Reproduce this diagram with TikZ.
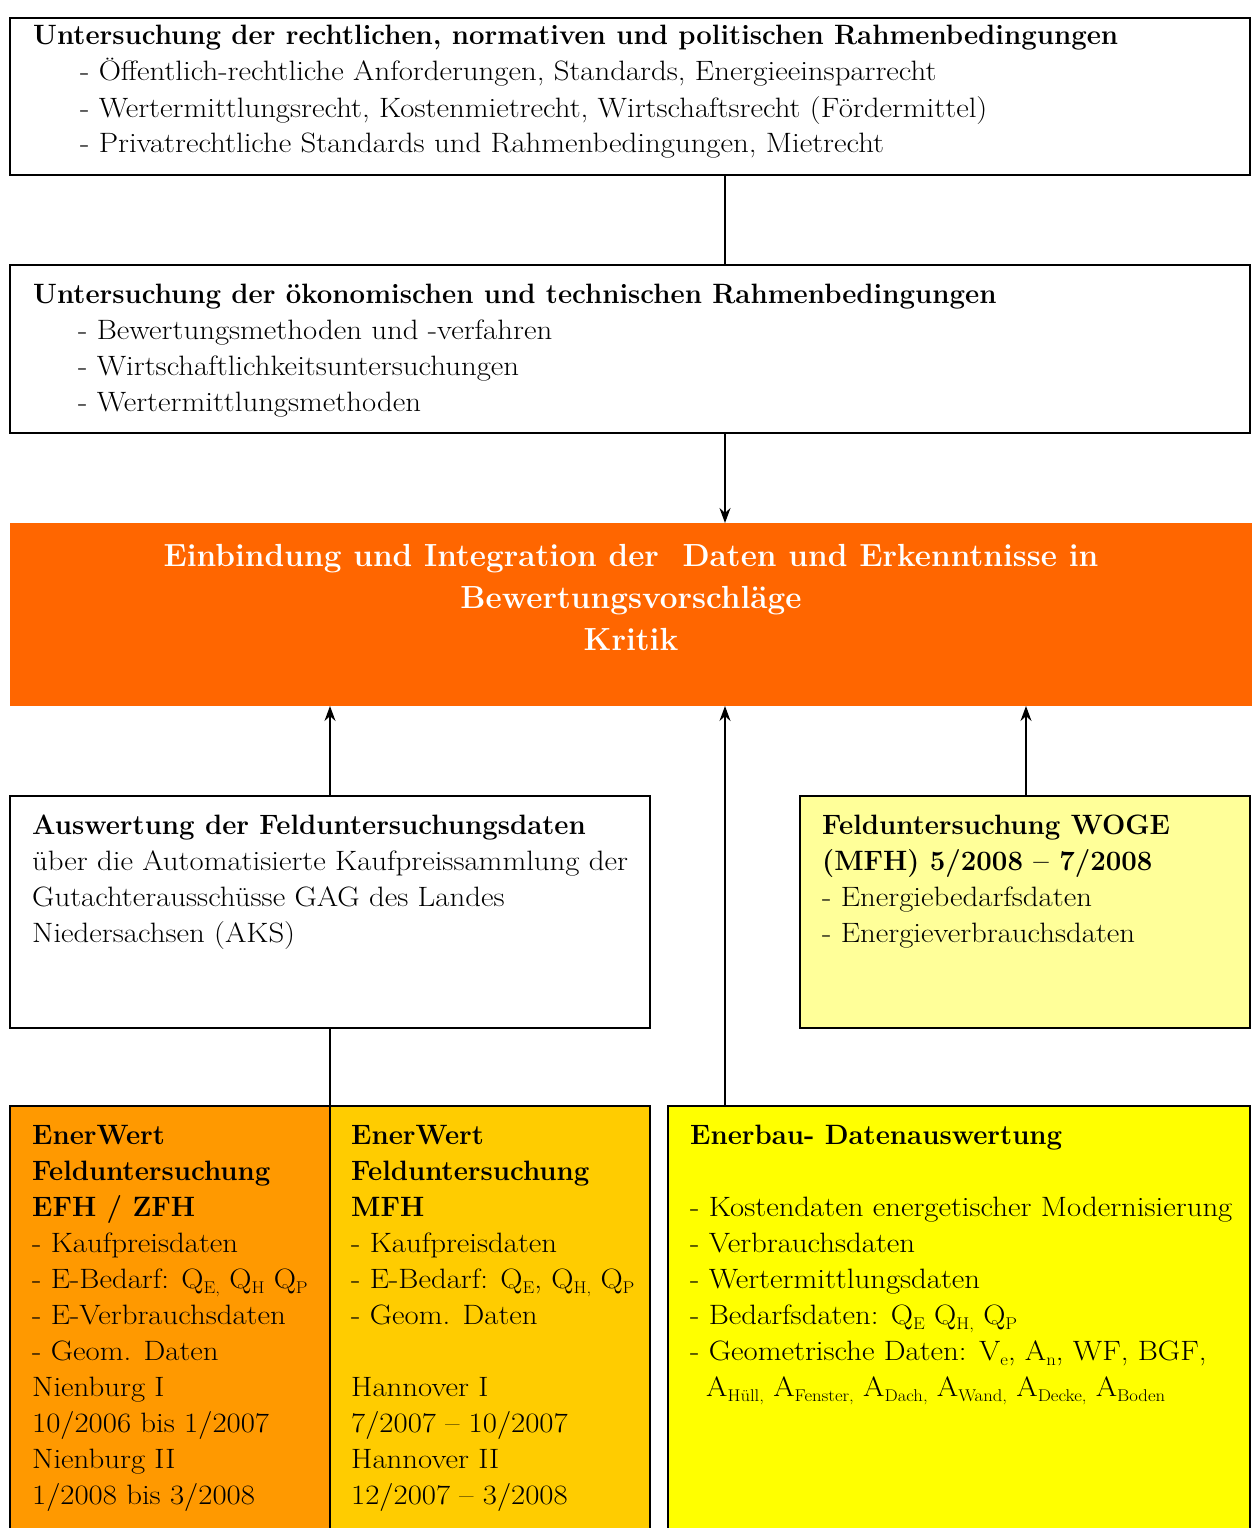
\documentclass[tikz,border=0pt]{standalone}
\usepackage{fontspec}
\setmainfont{Latin Modern Roman}[UprightFeatures={FakeStretch=1.1},BoldFeatures={FakeStretch=0.985}]
\usetikzlibrary{arrows.meta}
\definecolor{mainorange}{HTML}{FF6600}
\definecolor{darkorange}{HTML}{FF9900}
\definecolor{goldbox}{HTML}{FFCC00}
\definecolor{yellowbox}{HTML}{FFFF00}
\definecolor{paleyellow}{HTML}{FFFF99}
% small lowered index text
\newcommand\idx[1]{\raisebox{-5pt}{\fontsize{17}{17}\selectfont #1}}
\begin{document}
\begin{tikzpicture}[x=1pt,y=-1pt,
  box/.style={draw=black, line width=1.4pt, inner sep=0pt, outer sep=0pt, anchor=north west},
  txt/.style={anchor=base west, inner sep=0pt, font=\fontsize{28}{36}\selectfont},
  conn/.style={line width=1.4pt},
  arr/.style={conn, -{Stealth[length=15pt,width=11pt]}}]
\useasboundingbox (0,0) rectangle (1252,1528);

% boxes
\node[box, minimum width=1240pt, minimum height=157pt] (recht) at (10,18) {};
\node[box, minimum width=1240pt, minimum height=168pt] (oeko) at (10,265) {};
\node[box, draw=none, fill=mainorange, minimum width=1242pt, minimum height=183pt] (main) at (10,523) {};
\node[box, minimum width=640pt, minimum height=232pt] (aks) at (10,796) {};
\node[box, fill=paleyellow, minimum width=450pt, minimum height=232pt] (woge) at (800,796) {};
\node[box, fill=darkorange, minimum width=320pt, minimum height=440pt] (efh) at (10,1106) {};
\node[box, fill=goldbox, minimum width=320pt, minimum height=440pt] (mfh) at (330,1106) {};
\node[box, fill=yellowbox, minimum width=582pt, minimum height=440pt] (enerbau) at (668,1106) {};

% connector columns
\coordinate (cmid) at (725,0);
\coordinate (cleft) at (330,0);
\coordinate (cright) at (1026,0);

\draw[conn] (recht.south -| cmid) -- (oeko.north -| cmid);
\draw[arr] (oeko.south -| cmid) -- (main.north -| cmid);
\draw[arr] (aks.north -| cleft) -- (main.south -| cleft);
\draw[arr] (enerbau.north -| cmid) -- (main.south -| cmid);
\draw[arr] (woge.north -| cright) -- (main.south -| cright);
\draw[conn] (aks.south -| cleft) -- (efh.north -| cleft);

% texts
\node[txt] (rechtT) at (33,45) {\parbox[t]{1200pt}{\textbf{Untersuchung der rechtlichen, normativen und politischen Rahmenbedingungen}\\
\hspace*{47pt}- Öffentlich-rechtliche Anforderungen, Standards, Energieeinsparrecht\\
\hspace*{47pt}- Wertermittlungsrecht, Kostenmietrecht, Wirtschaftsrecht (Fördermittel)\\
\hspace*{47pt}- Privatrechtliche Standards und Rahmenbedingungen, Mietrecht}};

\node[txt] (oekoT) at (33,303) {\parbox[t]{1200pt}{\textbf{Untersuchung der ökonomischen und technischen Rahmenbedingungen}\\
\hspace*{45pt}- Bewertungsmethoden und -verfahren\\
\hspace*{45pt}- Wirtschaftlichkeitsuntersuchungen\\
\hspace*{45pt}- Wertermittlungsmethoden}};

\node[anchor=base, inner sep=0pt, text=white, font=\fontsize{32}{42}\selectfont\bfseries] (mainT) at (631,566)
  {\parbox[t]{1220pt}{\centering Einbindung und Integration der~~Daten und Erkenntnisse in\\
  Bewertungsvorschläge\\
  Kritik}};

\node[txt] (aksT) at (32,834) {\parbox[t]{610pt}{\textbf{Auswertung der Felduntersuchungsdaten}\\
über die Automatisierte Kaufpreissammlung der\\
Gutachterausschüsse GAG des Landes\\
Niedersachsen (AKS)}};

\node[txt] (wogeT) at (822,834) {\parbox[t]{420pt}{\textbf{Felduntersuchung WOGE}\\
\textbf{(MFH) 5/2008 – 7/2008}\\
- Energiebedarfsdaten\\
- Energieverbrauchsdaten}};

\node[txt] (efhT) at (32,1144) {\parbox[t]{295pt}{\textbf{EnerWert}\\
\textbf{Felduntersuchung}\\
\textbf{EFH / ZFH}\\
- Kaufpreisdaten\\
- E-Bedarf: Q\idx{E,} Q\idx{H} Q\idx{P}\\
- E-Verbrauchsdaten\\
- Geom. Daten\\
Nienburg I\\
10/2006 bis 1/2007\\
Nienburg II\\
1/2008 bis 3/2008}};

\node[txt] (mfhT) at (351,1144) {\parbox[t]{295pt}{\textbf{EnerWert}\\
\textbf{Felduntersuchung}\\
\textbf{MFH}\\
- Kaufpreisdaten\\
- E-Bedarf: Q\idx{E}, Q\idx{H,} Q\idx{P}\\
- Geom. Daten\\[36pt]
Hannover I\\
7/2007 – 10/2007\\
Hannover II\\
12/2007 – 3/2008}};

\node[txt] (enerbauT) at (690,1144) {\parbox[t]{560pt}{\textbf{Enerbau- Datenauswertung}\\[36pt]
- Kostendaten energetischer Modernisierung\\
- Verbrauchsdaten\\
- Wertermittlungsdaten\\
- Bedarfsdaten: Q\idx{E} Q\idx{H,} Q\idx{P}\\
- Geometrische Daten: V\idx{e}, A\idx{n}, WF, BGF,\\
\hspace*{16pt}A\idx{Hüll,} A\idx{Fenster,} A\idx{Dach,} A\idx{Wand,} A\idx{Decke,} A\idx{Boden}}};
\end{tikzpicture}
\end{document}
